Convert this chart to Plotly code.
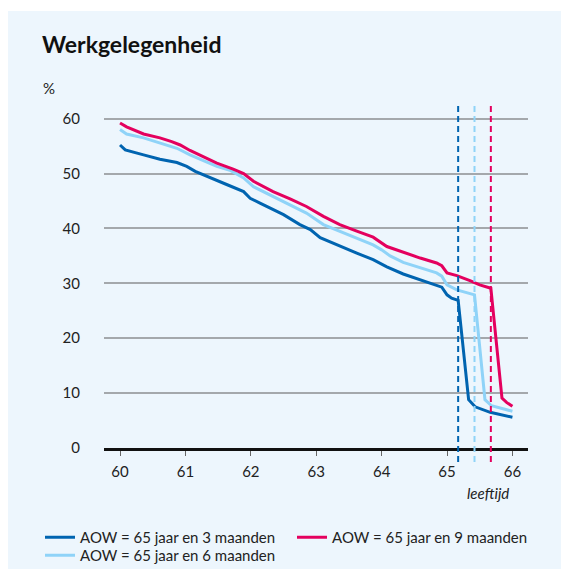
import plotly.graph_objects as go

# ---------------- data ----------------
series_names = ["AOW = 65 jaar en 3 maanden", "AOW = 65 jaar en 6 maanden", "AOW = 65 jaar en 9 maanden"]

age_3m = [60.0, 60.08, 60.36, 60.61, 60.87, 61.02, 61.15, 61.38, 61.63, 61.89, 61.99, 62.14, 62.24,
          62.5, 62.75, 62.91, 63.06, 63.31, 63.62, 63.87, 64.08, 64.33, 64.59, 64.84, 64.92, 65.0,
          65.07, 65.17, 65.33, 65.43, 65.66, 66.0]
emp_3m = [55.2, 54.3, 53.4, 52.6, 52.0, 51.3, 50.4, 49.2, 48.0, 46.7, 45.5, 44.6, 44.0,
          42.5, 40.7, 39.8, 38.3, 37.0, 35.5, 34.3, 33.0, 31.7, 30.7, 29.7, 29.3, 27.9,
          27.3, 26.9, 8.8, 7.5, 6.5, 5.6]

age_6m = [60.0, 60.1, 60.36, 60.61, 60.87, 61.07, 61.27, 61.48, 61.68, 61.89, 62.04, 62.34, 62.6,
          62.85, 63.11, 63.36, 63.62, 63.87, 64.0, 64.13, 64.33, 64.59, 64.84, 64.92, 65.0, 65.15,
          65.42, 65.58, 65.68, 66.0]
emp_6m = [58.0, 57.2, 56.5, 55.6, 54.6, 53.4, 52.4, 51.3, 50.6, 49.2, 47.6, 45.8, 44.3,
          42.8, 40.7, 39.5, 38.3, 37.0, 36.1, 35.0, 33.8, 32.8, 31.9, 31.3, 29.7, 28.8,
          27.9, 8.8, 7.7, 6.7]

age_9m = [60.0, 60.1, 60.36, 60.61, 60.79, 60.92, 61.07, 61.27, 61.48, 61.73, 61.89, 62.04, 62.14,
          62.34, 62.6, 62.85, 63.11, 63.36, 63.62, 63.87, 64.08, 64.33, 64.59, 64.84, 64.92, 65.0,
          65.15, 65.35, 65.5, 65.67, 65.84, 65.91, 66.0]
emp_9m = [59.2, 58.5, 57.2, 56.5, 55.8, 55.2, 54.2, 53.1, 51.9, 50.8, 50.0, 48.6, 48.0,
          46.7, 45.4, 44.0, 42.2, 40.7, 39.5, 38.4, 36.7, 35.6, 34.6, 33.7, 33.2, 31.9,
          31.4, 30.5, 29.7, 29.1, 9.1, 8.3, 7.6]

aow_ages = [65.17, 65.42, 65.67]   # pension ages (dashed markers)

x_ticks = [60, 61, 62, 63, 64, 65, 66]
y_ticks = [0, 10, 20, 30, 40, 50, 60]

title_text = "Werkgelegenheid"
y_unit = "%"
x_title = "leeftijd"

# ---------------- style ----------------
colors = ["#0064B0", "#8FD3F8", "#E4005E"]
panel_bg = "#EDF6FD"
FONT = "Lato"

OFF = 8                       # page body margin
W, H = 561, 561
L, R, T, B = 96, 41, 98, 121
PW, PH = W - L - R, H - T - B


def px(sx):
    """screen x -> paper fraction"""
    return (sx - OFF - L) / PW


def py(sy):
    """screen y -> paper fraction"""
    return (H - B - (sy - OFF)) / PH


fig = go.Figure()

series = [(age_3m, emp_3m), (age_6m, emp_6m), (age_9m, emp_9m)]
legend_ids = ["legend", "legend2", "legend"]
ranks = [1, 1, 2]
for (xs, ys), name, c, lg, rk in zip(series, series_names, colors, legend_ids, ranks):
    fig.add_trace(go.Scatter(x=xs, y=ys, mode="lines", name=name, legend=lg,
                             line=dict(color=c, width=3), legendrank=rk))

shapes = [dict(type="rect", xref="paper", yref="paper", x0=px(0), x1=px(580), y0=py(580), y1=py(11),
               fillcolor=panel_bg, line=dict(width=0), layer="below")]
for a, c in zip(aow_ages, colors):
    shapes.append(dict(type="line", xref="x", yref="paper", x0=a, x1=a, y0=py(462), y1=py(106),
                       line=dict(color=c, width=2, dash="6px,4px"), layer="above"))

annotations = [
    dict(text="<b>" + title_text + "</b>", xref="paper", yref="paper", x=px(40), y=py(44),
         xanchor="left", yanchor="middle", showarrow=False, font=dict(family=FONT, size=23, color="#111")),
    dict(text=y_unit, xref="paper", yref="paper", x=px(41), y=py(88),
         xanchor="left", yanchor="middle", showarrow=False, font=dict(family=FONT, size=15, color="#222")),
    dict(text="<i>" + x_title + "</i>", xref="paper", yref="paper", x=px(488), y=py(493),
         xanchor="center", yanchor="middle", showarrow=False, font=dict(family=FONT, size=15, color="#222")),
]

legend_common = dict(orientation="h", xanchor="left", yanchor="top",
                     bgcolor="rgba(0,0,0,0)", entrywidth=207, entrywidthmode="pixels",
                     font=dict(family=FONT, size=15, color="#222"),
                     itemclick=False, itemdoubleclick=False, traceorder="normal")

fig.update_layout(
    width=W, height=H,
    margin=dict(l=L, r=R, t=T, b=B, autoexpand=False),
    paper_bgcolor="white",
    plot_bgcolor="rgba(0,0,0,0)",
    font=dict(family=FONT, size=15, color="#222"),
    shapes=shapes,
    annotations=annotations,
    showlegend=True,
    legend=dict(x=px(40), y=py(521), **legend_common),
    legend2=dict(x=px(40), y=py(539), **legend_common),
)

fig.update_xaxes(range=[59.755, 66.238], tickvals=x_ticks, ticktext=[str(v) for v in x_ticks],
                 showgrid=False, zeroline=False, showline=True, linecolor="#111", linewidth=2.5,
                 ticks="outside", ticklen=5, tickwidth=1, tickcolor="#666", ticklabelstandoff=3,
                 tickfont=dict(family=FONT, size=15, color="#222"))
fig.update_yaxes(range=[0, 62.3], tickvals=y_ticks, ticktext=[str(v) for v in y_ticks],
                 showgrid=True, gridcolor="#A4A8AC", gridwidth=1.5, zeroline=False, showline=False,
                 ticks="", ticklabelstandoff=23,
                 tickfont=dict(family=FONT, size=15, color="#222"))

fig.write_html("out.html")
